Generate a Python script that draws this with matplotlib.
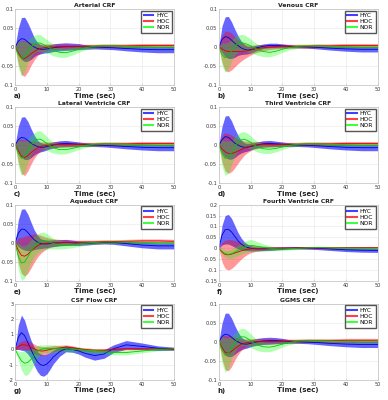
import numpy as np
import matplotlib
matplotlib.use("Agg")
import matplotlib.pyplot as plt
from matplotlib.lines import Line2D

# ---------- data ----------
time_s = [0, 1, 2, 3, 4, 5, 6, 7, 8, 9, 10, 11, 12, 14, 16, 18, 20, 22, 25, 28, 31, 35, 40, 45, 50]

# a) Arterial
art_hyc = [0, 0.015, 0.022, 0.02, 0.013, 0.006, 0.0, -0.004, -0.006, -0.006, -0.005, -0.004, -0.002, 0.0, 0.001, 0.001, 0.001, 0.0, 0.0, -0.001, -0.002, -0.004, -0.006, -0.007, -0.007]
art_hyc_sd = [0, 0.035, 0.055, 0.058, 0.05, 0.038, 0.025, 0.016, 0.012, 0.01, 0.01, 0.01, 0.01, 0.01, 0.01, 0.009, 0.008, 0.006, 0.005, 0.005, 0.005, 0.006, 0.007, 0.008, 0.008]
art_hoc = [0, -0.015, -0.028, -0.03, -0.025, -0.018, -0.012, -0.007, -0.004, -0.002, -0.001, 0, 0, 0.001, 0.001, 0.001, 0.001, 0.002, 0.002, 0.003, 0.003, 0.003, 0.004, 0.004, 0.004]
art_hoc_sd = [0, 0.03, 0.045, 0.047, 0.04, 0.03, 0.022, 0.016, 0.012, 0.01, 0.009, 0.008, 0.008, 0.007, 0.007, 0.006, 0.006, 0.005, 0.005, 0.005, 0.005, 0.005, 0.005, 0.005, 0.005]
art_nor = [0, -0.02, -0.03, -0.025, -0.012, 0.0, 0.008, 0.011, 0.01, 0.006, 0.002, -0.003, -0.008, -0.014, -0.015, -0.011, -0.006, -0.002, 0.002, 0.003, 0.003, 0.002, 0.001, 0.0, 0.0]
art_nor_sd = [0, 0.035, 0.045, 0.04, 0.03, 0.025, 0.022, 0.022, 0.022, 0.02, 0.018, 0.016, 0.015, 0.013, 0.012, 0.01, 0.008, 0.006, 0.005, 0.004, 0.004, 0.004, 0.003, 0.003, 0.003]

# b) Venous
ven_hyc = [0, 0.02, 0.027, 0.025, 0.018, 0.01, 0.004, -0.002, -0.006, -0.008, -0.007, -0.005, -0.002, 0.002, 0.004, 0.004, 0.003, 0.002, 0.001, 0.0, -0.001, -0.003, -0.005, -0.006, -0.006]
ven_hyc_sd = [0, 0.035, 0.052, 0.055, 0.048, 0.037, 0.026, 0.018, 0.013, 0.01, 0.009, 0.008, 0.007, 0.006, 0.006, 0.006, 0.005, 0.004, 0.003, 0.003, 0.004, 0.005, 0.006, 0.007, 0.007]
ven_hoc = [0, -0.005, -0.01, -0.012, -0.012, -0.012, -0.012, -0.012, -0.011, -0.01, -0.008, -0.006, -0.004, -0.002, 0.0, 0.001, 0.002, 0.002, 0.002, 0.002, 0.003, 0.003, 0.004, 0.004, 0.004]
ven_hoc_sd = [0, 0.035, 0.052, 0.053, 0.048, 0.04, 0.032, 0.025, 0.02, 0.016, 0.013, 0.011, 0.01, 0.008, 0.007, 0.006, 0.006, 0.005, 0.005, 0.005, 0.005, 0.005, 0.005, 0.005, 0.005]
ven_nor = [0, -0.02, -0.028, -0.022, -0.01, 0.002, 0.009, 0.011, 0.01, 0.007, 0.003, -0.002, -0.006, -0.012, -0.014, -0.011, -0.006, -0.002, 0.002, 0.003, 0.003, 0.002, 0.001, 0.0, 0.0]
ven_nor_sd = [0, 0.03, 0.038, 0.035, 0.028, 0.024, 0.022, 0.022, 0.022, 0.02, 0.018, 0.016, 0.015, 0.013, 0.012, 0.01, 0.008, 0.006, 0.005, 0.004, 0.004, 0.004, 0.003, 0.003, 0.003]

# c) Lateral Ventricle
lat_hyc = [0, 0.014, 0.02, 0.018, 0.012, 0.005, 0.0, -0.004, -0.006, -0.006, -0.004, -0.002, 0.0, 0.003, 0.004, 0.003, 0.002, 0.001, 0.0, -0.001, -0.002, -0.004, -0.006, -0.007, -0.007]
lat_hyc_sd = [0, 0.035, 0.053, 0.056, 0.05, 0.038, 0.026, 0.017, 0.012, 0.01, 0.009, 0.008, 0.008, 0.008, 0.008, 0.007, 0.006, 0.005, 0.004, 0.004, 0.005, 0.006, 0.007, 0.008, 0.008]
lat_hoc = [0, -0.015, -0.03, -0.033, -0.028, -0.02, -0.013, -0.008, -0.004, -0.002, -0.001, 0, 0.001, 0.001, 0.001, 0.001, 0.001, 0.002, 0.002, 0.003, 0.003, 0.003, 0.004, 0.004, 0.004]
lat_hoc_sd = [0, 0.03, 0.045, 0.047, 0.04, 0.03, 0.022, 0.016, 0.012, 0.01, 0.009, 0.008, 0.008, 0.007, 0.007, 0.006, 0.006, 0.005, 0.005, 0.005, 0.005, 0.005, 0.005, 0.005, 0.005]
lat_nor = [0, -0.022, -0.035, -0.03, -0.015, 0.0, 0.01, 0.015, 0.015, 0.01, 0.004, -0.002, -0.007, -0.012, -0.012, -0.009, -0.005, -0.001, 0.002, 0.003, 0.003, 0.002, 0.001, 0.0, 0.0]
lat_nor_sd = [0, 0.035, 0.045, 0.04, 0.03, 0.025, 0.022, 0.022, 0.022, 0.02, 0.018, 0.016, 0.014, 0.012, 0.011, 0.009, 0.007, 0.006, 0.005, 0.004, 0.004, 0.004, 0.003, 0.003, 0.003]

# d) Third Ventricle
thi_hyc = [0, 0.014, 0.022, 0.02, 0.013, 0.005, 0.0, -0.004, -0.006, -0.006, -0.004, -0.002, 0.0, 0.003, 0.004, 0.003, 0.002, 0.001, 0.0, -0.001, -0.002, -0.004, -0.006, -0.007, -0.007]
thi_hyc_sd = [0, 0.035, 0.054, 0.057, 0.05, 0.038, 0.026, 0.017, 0.012, 0.01, 0.009, 0.008, 0.008, 0.008, 0.008, 0.007, 0.006, 0.005, 0.004, 0.004, 0.005, 0.006, 0.007, 0.008, 0.008]
thi_hoc = [0, -0.01, -0.018, -0.022, -0.022, -0.02, -0.016, -0.012, -0.008, -0.005, -0.003, -0.001, 0, 0.001, 0.001, 0.001, 0.001, 0.002, 0.002, 0.003, 0.003, 0.003, 0.004, 0.004, 0.004]
thi_hoc_sd = [0, 0.035, 0.05, 0.052, 0.048, 0.04, 0.032, 0.025, 0.019, 0.015, 0.012, 0.01, 0.009, 0.008, 0.007, 0.006, 0.006, 0.005, 0.005, 0.005, 0.005, 0.005, 0.005, 0.005, 0.005]
thi_nor = [0, -0.022, -0.035, -0.032, -0.02, -0.005, 0.007, 0.013, 0.015, 0.012, 0.007, 0.001, -0.004, -0.01, -0.011, -0.009, -0.005, -0.001, 0.002, 0.003, 0.003, 0.002, 0.001, 0.0, 0.0]
thi_nor_sd = [0, 0.035, 0.045, 0.042, 0.032, 0.026, 0.022, 0.021, 0.02, 0.019, 0.017, 0.015, 0.014, 0.012, 0.011, 0.009, 0.007, 0.006, 0.005, 0.004, 0.004, 0.004, 0.003, 0.003, 0.003]

# e) Aqueduct
aqu_hyc = [0, 0.025, 0.036, 0.035, 0.027, 0.017, 0.008, 0.002, -0.002, -0.003, -0.003, -0.002, -0.001, 0.0, 0.001, 0.0, -0.001, -0.001, 0.0, 0.001, 0.001, -0.002, -0.006, -0.008, -0.008]
aqu_hyc_sd = [0, 0.035, 0.052, 0.054, 0.048, 0.037, 0.026, 0.018, 0.013, 0.011, 0.01, 0.009, 0.009, 0.008, 0.008, 0.007, 0.006, 0.005, 0.004, 0.004, 0.005, 0.006, 0.007, 0.008, 0.008]
aqu_hoc = [0, -0.02, -0.033, -0.035, -0.03, -0.022, -0.014, -0.008, -0.004, -0.002, -0.001, 0.0, 0.0, 0.001, 0.001, 0.001, 0.001, 0.002, 0.002, 0.003, 0.003, 0.004, 0.005, 0.005, 0.004]
aqu_hoc_sd = [0, 0.033, 0.047, 0.052, 0.05, 0.044, 0.037, 0.03, 0.024, 0.019, 0.015, 0.012, 0.01, 0.008, 0.007, 0.006, 0.006, 0.005, 0.005, 0.005, 0.005, 0.005, 0.005, 0.005, 0.005]
aqu_nor = [0, -0.035, -0.053, -0.05, -0.037, -0.022, -0.01, -0.002, 0.003, 0.005, 0.004, 0.001, -0.002, -0.005, -0.006, -0.005, -0.003, -0.001, 0.001, 0.002, 0.002, 0.002, 0.001, 0.0, 0.0]
aqu_nor_sd = [0, 0.035, 0.045, 0.042, 0.035, 0.03, 0.027, 0.025, 0.024, 0.023, 0.02, 0.017, 0.014, 0.011, 0.009, 0.008, 0.007, 0.006, 0.005, 0.004, 0.004, 0.004, 0.003, 0.003, 0.003]

# f) Fourth Ventricle
fou_hyc = [0, 0.06, 0.085, 0.087, 0.075, 0.055, 0.035, 0.02, 0.01, 0.004, 0.0, -0.002, -0.003, -0.003, -0.002, -0.001, 0.0, 0.001, 0.002, 0.001, 0.0, -0.003, -0.007, -0.009, -0.01]
fou_hyc_sd = [0, 0.045, 0.065, 0.068, 0.062, 0.05, 0.038, 0.028, 0.02, 0.015, 0.012, 0.01, 0.009, 0.008, 0.008, 0.007, 0.006, 0.005, 0.005, 0.005, 0.006, 0.007, 0.008, 0.009, 0.009]
fou_hoc = [0, -0.018, -0.028, -0.03, -0.027, -0.022, -0.017, -0.012, -0.008, -0.005, -0.003, -0.002, -0.001, 0.0, 0.0, 0.001, 0.001, 0.001, 0.002, 0.002, 0.002, 0.002, 0.003, 0.003, 0.003]
fou_hoc_sd = [0, 0.045, 0.065, 0.07, 0.066, 0.058, 0.048, 0.038, 0.03, 0.023, 0.018, 0.015, 0.012, 0.01, 0.008, 0.007, 0.006, 0.005, 0.005, 0.005, 0.005, 0.005, 0.005, 0.005, 0.005]
fou_nor = [0, -0.015, -0.025, -0.028, -0.025, -0.018, -0.01, -0.002, 0.005, 0.01, 0.013, 0.012, 0.009, 0.004, 0.0, -0.002, -0.003, -0.002, 0.0, 0.002, 0.003, 0.002, 0.001, 0.0, 0.0]
fou_nor_sd = [0, 0.01, 0.015, 0.018, 0.02, 0.022, 0.024, 0.025, 0.026, 0.027, 0.027, 0.025, 0.022, 0.016, 0.012, 0.009, 0.007, 0.006, 0.005, 0.004, 0.004, 0.004, 0.003, 0.003, 0.003]

# g) CSF Flow
csf_hyc = [0, 0.8, 1.1, 0.9, 0.45, 0.0, -0.45, -0.8, -1.0, -1.05, -0.95, -0.75, -0.5, -0.15, 0.05, 0.0, -0.1, -0.25, -0.4, -0.3, 0.05, 0.3, 0.2, 0.08, 0.05]
csf_hyc_sd = [0, 0.8, 1.15, 1.0, 0.75, 0.6, 0.6, 0.65, 0.7, 0.7, 0.65, 0.55, 0.45, 0.3, 0.2, 0.18, 0.2, 0.25, 0.3, 0.28, 0.25, 0.28, 0.22, 0.15, 0.1]
csf_hoc = [0, 0.2, 0.3, 0.3, 0.25, 0.15, 0.05, -0.05, -0.1, -0.1, -0.05, 0.0, 0.05, 0.1, 0.15, 0.12, 0.05, 0.0, -0.05, -0.05, 0.0, 0.05, 0.05, 0.03, 0.0]
csf_hoc_sd = [0, 0.2, 0.25, 0.3, 0.3, 0.3, 0.3, 0.3, 0.3, 0.28, 0.25, 0.22, 0.2, 0.17, 0.15, 0.12, 0.1, 0.1, 0.1, 0.1, 0.08, 0.08, 0.06, 0.05, 0.04]
csf_nor = [0, -0.4, -0.75, -0.9, -0.85, -0.65, -0.4, -0.15, 0.0, 0.05, 0.05, 0.05, 0.05, 0.05, 0.05, 0.0, 0.0, -0.05, -0.1, -0.15, -0.2, -0.2, -0.1, 0.0, 0.05]
csf_nor_sd = [0, 0.3, 0.6, 0.8, 0.8, 0.7, 0.55, 0.4, 0.3, 0.25, 0.25, 0.25, 0.25, 0.22, 0.2, 0.18, 0.15, 0.15, 0.15, 0.15, 0.15, 0.15, 0.12, 0.1, 0.08]

# h) GGMS
ggm_hyc = [0, 0.014, 0.02, 0.018, 0.012, 0.005, 0.0, -0.004, -0.006, -0.006, -0.004, -0.002, 0.0, 0.002, 0.003, 0.003, 0.002, 0.001, 0.0, -0.001, -0.002, -0.004, -0.006, -0.007, -0.007]
ggm_hyc_sd = [0, 0.035, 0.055, 0.057, 0.05, 0.038, 0.026, 0.017, 0.012, 0.01, 0.009, 0.009, 0.009, 0.009, 0.009, 0.008, 0.007, 0.005, 0.004, 0.004, 0.005, 0.006, 0.007, 0.008, 0.008]
ggm_hoc = [0, -0.015, -0.028, -0.03, -0.025, -0.018, -0.012, -0.007, -0.004, -0.002, -0.001, 0, 0, 0.001, 0.001, 0.001, 0.001, 0.002, 0.002, 0.003, 0.003, 0.003, 0.004, 0.004, 0.004]
ggm_hoc_sd = [0, 0.03, 0.045, 0.046, 0.04, 0.03, 0.022, 0.016, 0.012, 0.01, 0.009, 0.008, 0.008, 0.007, 0.007, 0.006, 0.006, 0.005, 0.005, 0.005, 0.005, 0.005, 0.005, 0.005, 0.005]
ggm_nor = [0, -0.022, -0.035, -0.03, -0.016, -0.002, 0.008, 0.013, 0.013, 0.009, 0.003, -0.003, -0.008, -0.013, -0.014, -0.011, -0.006, -0.002, 0.002, 0.003, 0.003, 0.002, 0.001, 0.0, 0.0]
ggm_nor_sd = [0, 0.035, 0.045, 0.04, 0.03, 0.025, 0.022, 0.022, 0.022, 0.02, 0.018, 0.016, 0.015, 0.013, 0.012, 0.01, 0.008, 0.006, 0.005, 0.004, 0.004, 0.004, 0.003, 0.003, 0.003]

titles = ["Arterial CRF", "Venous CRF", "Lateral Ventricle CRF", "Third Ventricle CRF",
          "Aqueduct CRF", "Fourth Ventricle CRF", "CSF Flow CRF", "GGMS CRF"]
letters = ["a)", "b)", "c)", "d)", "e)", "f)", "g)", "h)"]
groups = ["HYC", "HOC", "NOR"]

panel_data = [
    [(art_hyc, art_hyc_sd), (art_hoc, art_hoc_sd), (art_nor, art_nor_sd)],
    [(ven_hyc, ven_hyc_sd), (ven_hoc, ven_hoc_sd), (ven_nor, ven_nor_sd)],
    [(lat_hyc, lat_hyc_sd), (lat_hoc, lat_hoc_sd), (lat_nor, lat_nor_sd)],
    [(thi_hyc, thi_hyc_sd), (thi_hoc, thi_hoc_sd), (thi_nor, thi_nor_sd)],
    [(aqu_hyc, aqu_hyc_sd), (aqu_hoc, aqu_hoc_sd), (aqu_nor, aqu_nor_sd)],
    [(fou_hyc, fou_hyc_sd), (fou_hoc, fou_hoc_sd), (fou_nor, fou_nor_sd)],
    [(csf_hyc, csf_hyc_sd), (csf_hoc, csf_hoc_sd), (csf_nor, csf_nor_sd)],
    [(ggm_hyc, ggm_hyc_sd), (ggm_hoc, ggm_hoc_sd), (ggm_nor, ggm_nor_sd)],
]

ylims = [(-0.1, 0.1)] * 5 + [(-0.15, 0.2), (-2, 3), (-0.1, 0.1)]
yticks = [[-0.1, -0.05, 0, 0.05, 0.1]] * 5 + [
    [-0.15, -0.1, -0.05, 0, 0.05, 0.1, 0.15, 0.2], [-2, -1, 0, 1, 2, 3], [-0.1, -0.05, 0, 0.05, 0.1]]

# ---------- style ----------
band_cols = ["#0000ff", "#ff0000", "#00ff00"]
band_alpha = [0.6, 0.4, 0.3]
line_cols = ["#0000cc", "#dd0000", "#00cc00"]

col_left = [0.039, 0.564]
ax_w = 0.409
row_bottom = [0.787, 0.542, 0.2975, 0.05]
ax_h = 0.191

fig = plt.figure(figsize=(3.88, 4.0), dpi=100)
t = np.array(time_s)

for i in range(8):
    r, c = divmod(i, 2)
    ax = fig.add_axes([col_left[c], row_bottom[r], ax_w, ax_h])
    for g in range(3):
        m = np.array(panel_data[i][g][0])
        s = np.array(panel_data[i][g][1])
        ax.fill_between(t, m - s, m + s, color=band_cols[g], alpha=band_alpha[g], lw=0)
    for g in range(3):
        m = np.array(panel_data[i][g][0])
        ax.plot(t, m, color=line_cols[g], lw=0.6)

    ax.set_xlim(0, 50)
    ax.set_ylim(*ylims[i])
    ax.set_xticks([0, 10, 20, 30, 40, 50])
    ax.set_yticks(yticks[i])
    ax.set_yticklabels([f"{v:g}" for v in yticks[i]])
    ax.grid(True, color="#e6e6e6", lw=0.4)
    ax.set_axisbelow(True)
    for sp in ax.spines.values():
        sp.set_color("#bfbfbf")
        sp.set_linewidth(0.5)
    ax.tick_params(labelsize=3.6, length=1.5, width=0.4, direction="in",
                   colors="#bfbfbf", labelcolor="#333333", pad=1.2)
    ax.set_title(titles[i], fontsize=4.4, fontweight="bold", pad=1.0, color="#222222")
    ax.set_xlabel("Time (sec)", fontsize=5, fontweight="bold", labelpad=0.5, color="#222222")
    ax.text(-0.01, -0.14, letters[i], transform=ax.transAxes, fontsize=5,
            fontweight="bold", ha="left", va="center", color="#222222")

    handles = [Line2D([0], [0], color=band_cols[g], alpha=0.75, lw=1.5) for g in range(3)]
    leg = ax.legend(handles, groups, loc="upper right", fontsize=4.3, handlelength=1.6,
                    handletextpad=0.5, borderpad=0.4, labelspacing=0.15, borderaxespad=0.3,
                    fancybox=False, framealpha=1)
    leg.get_frame().set_edgecolor("#555555")
    leg.get_frame().set_linewidth(1.0)

fig.savefig("out.png", dpi=100)
